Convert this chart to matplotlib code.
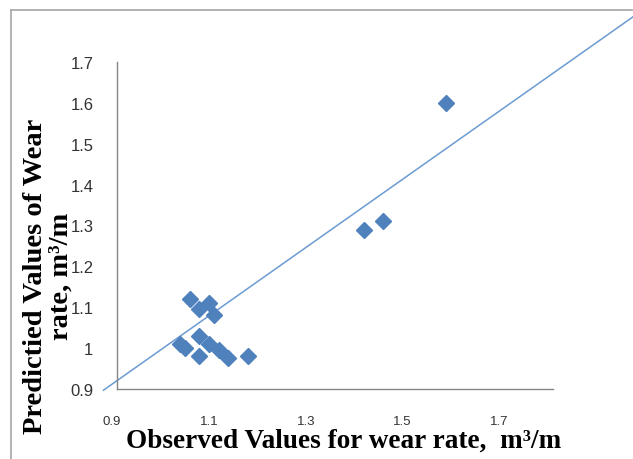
import matplotlib
matplotlib.use("Agg")
import matplotlib.pyplot as plt
from matplotlib.lines import Line2D
from matplotlib.transforms import ScaledTranslation

# Data
observed = [1.05, 1.07, 1.09, 1.10, 1.07, 1.03, 1.04, 1.09, 1.11, 1.07, 1.13, 1.17, 1.41, 1.45, 1.58]
predicted = [1.12, 1.095, 1.11, 1.08, 1.03, 1.01, 1.00, 1.01, 0.995, 0.98, 0.975, 0.98, 1.29, 1.31, 1.60]
# hand-drawn reference line (extends beyond plot area)
line_x = [0.872, 1.967]
line_y = [0.897, 1.812]
x_ticks = [0.9, 1.1, 1.3, 1.5, 1.7]
y_ticks = [0.9, 1.0, 1.1, 1.2, 1.3, 1.4, 1.5, 1.6, 1.7]
y_ticklabels = ["0.9", "1", "1.1", "1.2", "1.3", "1.4", "1.5", "1.6", "1.7"]

W, H = 633, 460
fig = plt.figure(figsize=(W / 100, H / 100), dpi=100)
fig.patch.set_facecolor("white")

# outer chart border (top & left visible)
border_col = "#a6a6a6"
fig.add_artist(Line2D([11 / W, 1.0], [1 - 11 / H, 1 - 11 / H], color=border_col, lw=1.2, transform=fig.transFigure))
fig.add_artist(Line2D([11 / W, 11 / W], [0.0, 1 - 11 / H], color=border_col, lw=1.2, transform=fig.transFigure))

x0, x1 = 117, 553
ytop, ybot = 63, 390
ax = fig.add_axes([x0 / W, 1 - ybot / H, (x1 - x0) / W, (ybot - ytop) / H])
ax.set_xlim(0.9, 1.8)
ax.set_ylim(0.9, 1.7)

for s in ["top", "right"]:
    ax.spines[s].set_visible(False)
for s in ["left", "bottom"]:
    ax.spines[s].set_color("#868686")
    ax.spines[s].set_linewidth(1.0)

ax.set_xticks(x_ticks)
ax.set_xticklabels([f"{v:.1f}" for v in x_ticks], fontfamily="Liberation Sans", fontsize=9.5, color="#333333")
ax.set_yticks(y_ticks)
ax.set_yticklabels(y_ticklabels, fontfamily="Liberation Sans", fontsize=12, color="#333333")
ax.tick_params(axis="x", length=0, pad=19)
ax.tick_params(axis="y", length=0, pad=17)
shift = ScaledTranslation(-5 / 100, 0, fig.dpi_scale_trans)
for lab in ax.get_xticklabels():
    lab.set_transform(lab.get_transform() + shift)

ax.plot(line_x, line_y, color="#6b9bd2", lw=1.1, clip_on=False, zorder=2)
ax.plot(observed, predicted, linestyle="none", marker="D", markersize=8,
        color="#4f81bd", markeredgecolor="#4f81bd", zorder=3, clip_on=False)

fig.text(344 / W, 1 - 441 / H, "Observed Values for wear rate,  m³/m",
         ha="center", va="center", fontfamily="Liberation Serif", fontweight="bold",
         fontsize=19.6, color="black")
fig.text(48 / W, 1 - 276 / H, "Predictied Values of Wear\nrate, m³/m",
         ha="center", va="center", rotation=90, fontfamily="Liberation Serif",
         fontweight="bold", fontsize=20.5, linespacing=1.05, color="black",
         multialignment="center")

fig.savefig("out.png", dpi=100)
